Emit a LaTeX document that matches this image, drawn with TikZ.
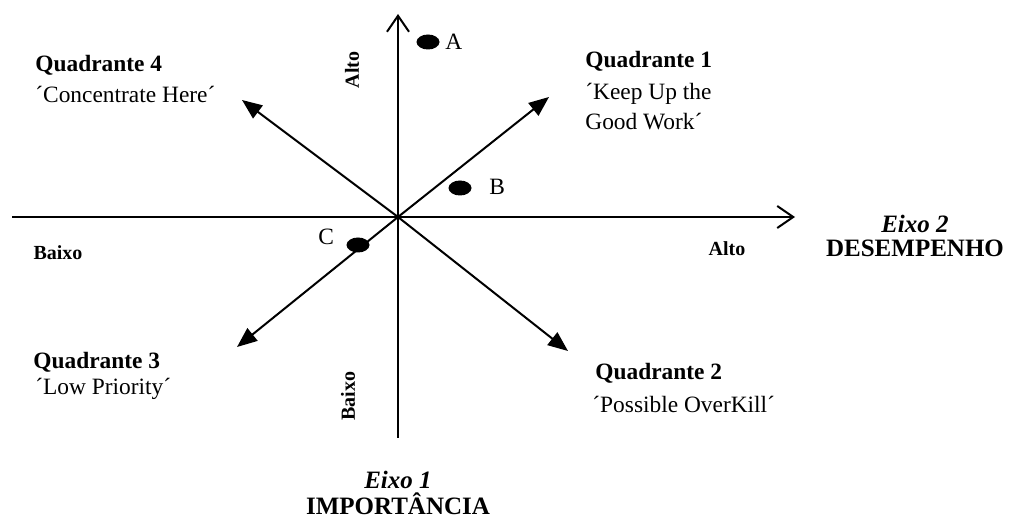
\documentclass[tikz,border=0pt]{standalone}
\usepackage{fontspec}
\setmainfont{Liberation Serif}
\usetikzlibrary{arrows.meta,shapes.geometric}

\begin{document}
\begin{tikzpicture}[x=0.5pt, y=-0.5pt,
  axis/.style={line width=1pt, -{Straight Barb[length=8pt, width=11pt, line width=1pt]}},
  diag/.style={line width=1pt, -{Triangle[length=10pt, width=8pt]}},
  dot/.style={ellipse, fill=black, inner sep=0, minimum width=11.5pt, minimum height=7.5pt},
  quad/.style={font=\fontsize{11.7}{14}\selectfont\bfseries, anchor=base west, inner sep=0},
  note/.style={font=\fontsize{11.7}{14}\selectfont, anchor=base west, inner sep=0},
  lbl/.style={font=\fontsize{10}{12}\selectfont\bfseries, inner sep=0},
  eixo/.style={font=\fontsize{12.5}{15}\selectfont\bfseries, anchor=base, inner sep=0}
]
\useasboundingbox (0,0) rectangle (1013,518);

% axes
\coordinate (O) at (398,217);
\coordinate (top) at (398,14);
\coordinate (bot) at (398,438);
\coordinate (lft) at (12,217);
\coordinate (rgt) at (795,217);
\coordinate (ne) at (549,97);
\coordinate (nw) at (242,100);
\coordinate (sw) at (237,347);
\coordinate (se) at (568,351);

\draw[axis] (bot) -- (top);
\draw[axis] (lft) -- (rgt);
\draw[diag] (O) -- (ne);
\draw[diag] (O) -- (nw);
\draw[diag] (O) -- (sw);
\draw[diag] (O) -- (se);

% points
\node[dot] (dA) at (428,42) {};
\node[dot] (dB) at (460,188) {};
\node[dot] (dC) at (358,245) {};
\node[note] (A) at (445,50) {A};
\node[note] (B) at (489,195) {B};
\node[note] (C) at (318,245) {C};

% quadrants
\node[quad] (q4) at (35,72) {Quadrante 4};
\node[note] (q4t) at (35,103) {´Concentrate Here´};
\node[quad] (q1) at (585,68) {Quadrante 1};
\node[note] (q1t) at (585,100) {´Keep Up the};
\node[note] (q1u) at (585,130) {Good Work´};
\node[quad] (q3) at (33,369) {Quadrante 3};
\node[note] (q3t) at (35,394) {´Low Priority´};
\node[quad] (q2) at (595,380) {Quadrante 2};
\node[note] (q2t) at (592,413) {´Possible OverKill´};

% axis labels
\node[lbl, anchor=base] (altoH) at (727,256) {Alto};
\node[lbl, anchor=base] (baixoH) at (58,260) {Baixo};
\node[lbl, rotate=90] (altoV) at (352,70) {Alto};
\node[lbl, rotate=90] (baixoV) at (348,396) {Baixo};
\node[eixo] (e2) at (915,233) {\textit{Eixo 2}};
\node[eixo] (e2t) at (915,257) {DESEMPENHO};
\node[eixo] (e1) at (398,488) {\textit{Eixo 1}};
\node[eixo] (e1t) at (398,515) {IMPORTÂNCIA};
\end{tikzpicture}
\end{document}
